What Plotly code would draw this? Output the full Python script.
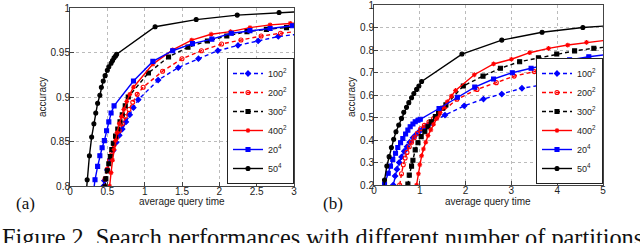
import plotly.graph_objects as go

# ---------------- data: panel (a) ----------------
names = ["100<sup>2</sup>", "200<sup>2</sup>", "300<sup>2</sup>", "400<sup>2</sup>", "20<sup>4</sup>", "50<sup>4</sup>"]

A_t_100 = [0.44, 0.46, 0.50, 0.54, 0.58, 0.62, 0.66, 0.70, 0.75, 0.80, 0.85, 0.915, 1.18, 1.45, 1.72, 1.98, 2.25, 2.52, 2.79, 3.05]
A_acc_100 = [0.799, 0.806, 0.818, 0.830, 0.840, 0.849, 0.857, 0.864, 0.872, 0.880, 0.888, 0.897, 0.919, 0.933, 0.943, 0.952, 0.958, 0.963, 0.968, 0.9705]

A_t_200 = [0.46, 0.47, 0.50, 0.53, 0.56, 0.59, 0.62, 0.66, 0.70, 0.74, 0.79, 0.84, 0.90, 0.98, 1.24, 1.50, 1.76, 2.03, 2.29, 2.56, 2.82, 3.08]
A_acc_200 = [0.798, 0.808, 0.819, 0.829, 0.838, 0.846, 0.854, 0.862, 0.870, 0.878, 0.886, 0.894, 0.903, 0.911, 0.929, 0.943, 0.952, 0.9596, 0.964, 0.9685, 0.9716, 0.974]

A_t_300 = [0.47, 0.48, 0.50, 0.52, 0.54, 0.56, 0.58, 0.61, 0.64, 0.67, 0.70, 0.74, 0.78, 1.05, 1.32, 1.58, 1.84, 2.10, 2.37, 2.63, 2.90, 3.16]
A_acc_300 = [0.799, 0.808, 0.817, 0.825, 0.833, 0.841, 0.848, 0.856, 0.864, 0.872, 0.880, 0.890, 0.900, 0.927, 0.945, 0.956, 0.963, 0.9685, 0.9735, 0.976, 0.978, 0.980]

A_t_400 = [0.525, 0.53, 0.55, 0.57, 0.59, 0.61, 0.63, 0.66, 0.69, 0.72, 0.76, 0.80, 0.85, 1.11, 1.375, 1.63, 1.89, 2.15, 2.41, 2.68, 2.95, 3.2]
A_acc_400 = [0.795, 0.800, 0.815, 0.829, 0.841, 0.851, 0.860, 0.870, 0.878, 0.886, 0.895, 0.903, 0.911, 0.937, 0.953, 0.964, 0.9705, 0.9735, 0.978, 0.981, 0.9828, 0.984]

A_t_20 = [0.32, 0.335, 0.37, 0.40, 0.43, 0.46, 0.49, 0.52, 0.55, 0.59, 0.85, 1.11, 1.375, 1.64, 1.90, 2.16, 2.41, 2.68, 2.98]
A_acc_20 = [0.797, 0.807, 0.822, 0.834, 0.843, 0.851, 0.862, 0.872, 0.882, 0.890, 0.918, 0.940, 0.952, 0.960, 0.965, 0.9716, 0.9746, 0.977, 0.980]

A_t_50 = [0.22, 0.23, 0.26, 0.29, 0.32, 0.345, 0.37, 0.40, 0.42, 0.445, 0.47, 0.50, 0.52, 0.55, 0.57, 0.59, 0.61, 0.625, 1.14, 1.69, 2.24, 2.8, 3.35]
A_acc_50 = [0.795, 0.807, 0.834, 0.855, 0.870, 0.882, 0.893, 0.902, 0.911, 0.918, 0.924, 0.930, 0.934, 0.938, 0.941, 0.944, 0.946, 0.948, 0.979, 0.987, 0.992, 0.995, 0.997]

# ---------------- data: panel (b) ----------------
B_t_100 = [0.40, 0.42, 0.46, 0.50, 0.55, 0.60, 0.66, 0.72, 0.78, 0.85, 0.92, 1.00, 1.08, 1.17, 1.26, 1.55, 1.97, 2.39, 2.79, 3.23, 3.65, 4.08, 4.50, 4.94, 5.3]
B_acc_100 = [0.18, 0.20, 0.24, 0.27, 0.30, 0.325, 0.35, 0.37, 0.39, 0.41, 0.425, 0.44, 0.452, 0.465, 0.477, 0.511, 0.552, 0.582, 0.604, 0.63, 0.644, 0.659, 0.667, 0.681, 0.69]

B_t_200 = [0.54, 0.56, 0.60, 0.64, 0.68, 0.72, 0.77, 0.82, 0.88, 0.95, 1.02, 1.10, 1.20, 1.30, 1.40, 1.81, 2.25, 2.67, 3.06, 3.50, 3.98, 4.40, 4.83, 5.3]
B_acc_200 = [0.17, 0.20, 0.25, 0.29, 0.32, 0.345, 0.37, 0.39, 0.41, 0.43, 0.45, 0.465, 0.48, 0.495, 0.51, 0.581, 0.625, 0.655, 0.684, 0.704, 0.726, 0.736, 0.748, 0.758]

B_t_300 = [0.72, 0.74, 0.77, 0.82, 0.85, 0.90, 0.96, 1.03, 1.11, 1.18, 1.25, 1.34, 1.41, 1.50, 1.57, 1.95, 2.38, 2.76, 3.18, 3.59, 3.99, 4.38, 4.80, 5.2]
B_acc_300 = [0.17, 0.204, 0.244, 0.284, 0.31, 0.356, 0.388, 0.415, 0.437, 0.459, 0.481, 0.504, 0.521, 0.541, 0.556, 0.64, 0.684, 0.719, 0.748, 0.765, 0.782, 0.796, 0.808, 0.815]

B_t_400 = [0.92, 0.93, 0.97, 1.00, 1.04, 1.08, 1.13, 1.18, 1.24, 1.30, 1.37, 1.44, 1.52, 1.60, 1.69, 1.78, 2.19, 2.61, 3.00, 3.40, 3.81, 4.23, 4.64, 5.05]
B_acc_400 = [0.16, 0.20, 0.25, 0.29, 0.33, 0.36, 0.39, 0.42, 0.445, 0.47, 0.495, 0.52, 0.545, 0.57, 0.595, 0.62, 0.69, 0.738, 0.759, 0.788, 0.807, 0.822, 0.834, 0.843]

B_t_20 = [0.21, 0.23, 0.31, 0.36, 0.41, 0.47, 0.52, 0.58, 0.63, 0.69, 0.74, 0.79, 0.85, 0.90, 0.96, 1.01, 1.42, 1.82, 2.20, 2.61, 3.02, 3.43, 3.85, 4.27, 4.69, 5.1]
B_acc_20 = [0.17, 0.204, 0.252, 0.284, 0.314, 0.341, 0.367, 0.388, 0.407, 0.427, 0.444, 0.459, 0.471, 0.481, 0.488, 0.492, 0.54, 0.59, 0.635, 0.671, 0.699, 0.719, 0.738, 0.756, 0.770, 0.780]

B_t_50 = [0.21, 0.23, 0.28, 0.33, 0.38, 0.43, 0.48, 0.54, 0.60, 0.65, 0.71, 0.76, 0.82, 0.87, 0.93, 0.98, 1.04, 1.92, 2.79, 3.67, 4.56, 5.4]
B_acc_50 = [0.17, 0.222, 0.284, 0.326, 0.367, 0.403, 0.437, 0.467, 0.496, 0.523, 0.545, 0.566, 0.588, 0.607, 0.625, 0.64, 0.66, 0.782, 0.844, 0.879, 0.90, 0.912]

colors = ["#0000ff", "#ff0000", "#000000", "#ff0000", "#0000ff", "#000000"]
dashes = ["dash", "dash", "dash", "solid", "solid", "solid"]
symbols = ["diamond", "circle-open", "square", "asterisk-open", "square", "circle"]

A_series = [(A_t_100, A_acc_100), (A_t_200, A_acc_200), (A_t_300, A_acc_300),
            (A_t_400, A_acc_400), (A_t_20, A_acc_20), (A_t_50, A_acc_50)]
B_series = [(B_t_100, B_acc_100), (B_t_200, B_acc_200), (B_t_300, B_acc_300),
            (B_t_400, B_acc_400), (B_t_20, B_acc_20), (B_t_50, B_acc_50)]

W, H = 640, 243


def px(x):
    return x / W


def py(y):
    return (H - y) / H


fig = go.Figure()
for panel, series in (("a", A_series), ("b", B_series)):
    for i, (t, acc) in enumerate(series):
        dash = "4px,3px" if dashes[i] == "dash" else "solid"
        fig.add_trace(go.Scatter(
            x=t, y=acc, mode="lines+markers", name=names[i],
            xaxis="x" if panel == "a" else "x2",
            yaxis="y" if panel == "a" else "y2",
            legend="legend" if panel == "a" else "legend2",
            line=dict(color=colors[i], width=1.4, dash=dash),
            marker=dict(symbol=symbols[i], size=4, color=colors[i],
                        line=dict(color=colors[i], width=1.1)),
        ))

sans = "Liberation Sans, Arial, sans-serif"
serif = "Liberation Serif, Times New Roman, serif"
tickfont = dict(family=sans, size=10, color="#222")
axis_common = dict(showline=True, mirror=True, linecolor="#444", linewidth=1,
                   ticks="inside", ticklen=4, tickcolor="#444", automargin=False,
                   ticklabeloverflow="allow",
                   showgrid=True, gridcolor="#bbbbbb", griddash="dot", gridwidth=1,
                   zeroline=False, tickfont=tickfont)
xcommon = dict(ticklabelstandoff=-4, **axis_common)
ycommon = dict(ticklabelstandoff=-3, **axis_common)

legend_common = dict(xanchor="right", yanchor="bottom", y=py(184),
                     bordercolor="#222", borderwidth=1, bgcolor="white",
                     font=dict(family=sans, size=9, color="#222"),
                     tracegroupgap=0, itemwidth=30)

label_font = dict(family=sans, size=10, color="#222")

fig.update_layout(
    width=W, height=H,
    margin=dict(l=0, r=0, t=0, b=0),
    paper_bgcolor="white", plot_bgcolor="white",
    hovermode=False,
    xaxis=dict(domain=[px(70), px(294)], range=[0, 3], tickvals=[0, 0.5, 1, 1.5, 2, 2.5, 3],
               anchor="y", **xcommon),
    yaxis=dict(domain=[py(186), py(8)], range=[0.8, 1], tickvals=[0.8, 0.85, 0.9, 0.95, 1],
               anchor="x", **ycommon),
    xaxis2=dict(domain=[px(374), px(603)], range=[0, 5], tickvals=[0, 1, 2, 3, 4, 5],
                anchor="y2", **xcommon),
    yaxis2=dict(domain=[py(185), py(5)], range=[0.2, 1],
                tickvals=[0.2, 0.3, 0.4, 0.5, 0.6, 0.7, 0.8, 0.9, 1],
                anchor="x2", **ycommon),
    legend=dict(x=px(294), **legend_common),
    legend2=dict(x=px(603), **legend_common),
    annotations=[
        dict(text="average query time", x=px(182), y=py(201), xref="paper", yref="paper",
             xanchor="center", yanchor="middle", showarrow=False, font=label_font),
        dict(text="average query time", x=px(488), y=py(201.5), xref="paper", yref="paper",
             xanchor="center", yanchor="middle", showarrow=False, font=label_font),
        dict(text="accuracy", x=px(43), y=py(97), xref="paper", yref="paper", textangle=-90,
             xanchor="center", yanchor="middle", showarrow=False, font=label_font),
        dict(text="accuracy", x=px(352), y=py(97), xref="paper", yref="paper", textangle=-90,
             xanchor="center", yanchor="middle", showarrow=False, font=label_font),
        dict(text="(a)", x=px(14), y=py(203.5), xref="paper", yref="paper", xanchor="left", yanchor="middle",
             showarrow=False, font=dict(family=serif, size=17, color="#111")),
        dict(text="(b)", x=px(321), y=py(203.5), xref="paper", yref="paper", xanchor="left", yanchor="middle",
             showarrow=False, font=dict(family=serif, size=17, color="#111")),
        dict(text="Figure 2. Search performances with different number of partitions.", x=0, y=py(222),
             xref="paper", yref="paper", xanchor="left", yanchor="top", showarrow=False,
             font=dict(family=serif, size=24.3, color="#111")),
    ],
)

fig.write_html("out.html", config={"displayModeBar": False, "staticPlot": True},
               post_script="document.body.style.margin='0';document.body.style.overflow='hidden';")
